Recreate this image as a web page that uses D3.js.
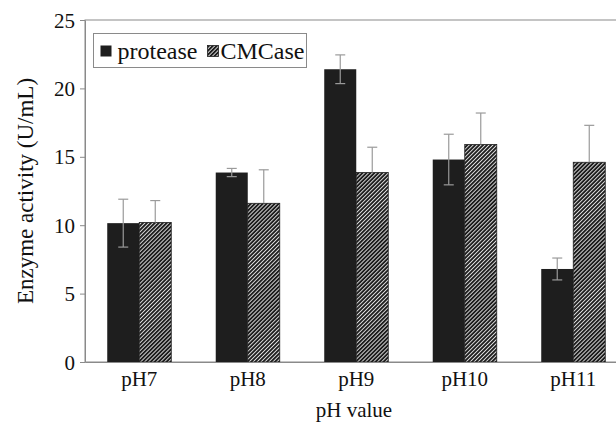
<!DOCTYPE html>
<html>
<head>
<meta charset="utf-8">
<script src="https://cdn.jsdelivr.net/npm/d3@7"></script>
<style>
  html, body { margin: 0; padding: 0; background: #fff; }
  svg { display: block; }
</style>
</head>
<body>
<svg id="chart" width="616" height="423"></svg>
<script>
const categories = ["pH7", "pH8", "pH9", "pH10", "pH11"];
const seriesNames = ["protease", "CMCase"];
const proteaseValues = [10.15, 13.85, 21.4, 14.8, 6.8];
const proteaseErrors = [1.75, 0.3, 1.05, 1.85, 0.8];
const cmcaseValues = [10.2, 11.6, 13.85, 15.9, 14.6];
const cmcaseErrors = [1.6, 2.45, 1.85, 2.3, 2.7];
const yTicks = [0, 5, 10, 15, 20, 25];

const FONT = '"Liberation Serif"';
const svg = d3.select("#chart");
const margin = { left: 85, top: 20, right: 627.5, bottom: 362 };

const defs = svg.append("defs");
const pat = defs.append("pattern")
  .attr("id", "hatch")
  .attr("patternUnits", "userSpaceOnUse")
  .attr("width", 2.8).attr("height", 2.8)
  .attr("patternTransform", "rotate(45)");
pat.append("rect").attr("width", 2.8).attr("height", 2.8).attr("fill", "#e2e2e2");
pat.append("line").attr("x1", 0.95).attr("x2", 0.95).attr("y1", 0).attr("y2", 2.8)
  .attr("stroke", "#1e1e1e").attr("stroke-width", 1.9);

const x0 = d3.scaleBand().domain(categories)
  .range([margin.left, margin.right])
  .paddingInner(0.41).paddingOuter(0.205);
const x1 = d3.scaleBand().domain(seriesNames).range([0, x0.bandwidth()]);
const y = d3.scaleLinear().domain([0, 25]).range([margin.bottom, margin.top]);

// frame
svg.append("rect")
  .attr("x", margin.left).attr("y", margin.top)
  .attr("width", margin.right - margin.left).attr("height", margin.bottom - margin.top)
  .attr("fill", "none").attr("stroke", "#8a8a8a").attr("stroke-width", 1);

const rows = categories.map((c, i) => ({
  cat: c,
  vals: [
    { s: "protease", v: proteaseValues[i], e: proteaseErrors[i] },
    { s: "CMCase", v: cmcaseValues[i], e: cmcaseErrors[i] }
  ]
}));

const groups = svg.append("g").selectAll("g").data(rows).join("g")
  .attr("transform", d => `translate(${x0(d.cat)},0)`);

groups.selectAll("rect").data(d => d.vals).join("rect")
  .attr("x", d => x1(d.s))
  .attr("y", d => y(d.v))
  .attr("width", x1.bandwidth())
  .attr("height", d => y(0) - y(d.v))
  .attr("fill", d => d.s === "protease" ? "#1e1e1e" : "url(#hatch)")
  .attr("stroke", d => d.s === "protease" ? "none" : "#1e1e1e")
  .attr("stroke-width", 0.8);

const capW = 5;
const cx = d => x1(d.s) + x1.bandwidth() / 2;
const eb = groups.selectAll("g.err").data(d => d.vals).join("g").attr("class", "err")
  .attr("stroke", "#9a9a9a").attr("stroke-width", 1.2);
eb.append("line")
  .attr("x1", cx).attr("x2", cx)
  .attr("y1", d => y(d.v + d.e))
  .attr("y2", d => d.s === "protease" ? y(d.v - d.e) : y(d.v));
eb.append("line")
  .attr("x1", d => cx(d) - capW).attr("x2", d => cx(d) + capW)
  .attr("y1", d => y(d.v + d.e)).attr("y2", d => y(d.v + d.e));
eb.filter(d => d.s === "protease").append("line")
  .attr("x1", d => cx(d) - capW).attr("x2", d => cx(d) + capW)
  .attr("y1", d => y(d.v - d.e)).attr("y2", d => y(d.v - d.e));

// axes
const yAxis = svg.append("g").attr("transform", `translate(${margin.left},0)`)
  .call(d3.axisLeft(y).tickValues(yTicks).tickSize(5).tickPadding(5).tickSizeOuter(0));
yAxis.attr("font-family", FONT).attr("font-size", 21);
yAxis.selectAll("line, path").attr("stroke", "#8a8a8a");
yAxis.selectAll("text").style("font-family", FONT).style("font-size", "21px")
  .attr("fill", "#111").attr("dy", "0.34em");

const xAxis = svg.append("g").attr("transform", `translate(0,${margin.bottom})`)
  .call(d3.axisBottom(x0).tickSize(0).tickPadding(9).tickSizeOuter(0));
xAxis.attr("font-family", FONT).attr("font-size", 21);
xAxis.selectAll("path").attr("stroke", "#8a8a8a");
xAxis.selectAll("text").style("font-family", FONT).style("font-size", "21px").attr("fill", "#111");

// axis titles
svg.append("text")
  .attr("transform", `translate(33,${(margin.top + margin.bottom) / 2}) rotate(-90)`)
  .attr("text-anchor", "middle")
  .style("font-family", FONT).style("font-size", "23px").attr("fill", "#111")
  .text("Enzyme activity (U/mL)");
svg.append("text")
  .attr("x", 354).attr("y", 416.5)
  .attr("text-anchor", "middle")
  .style("font-family", FONT).style("font-size", "21px").attr("fill", "#111")
  .text("pH value");

// legend
const lg = svg.append("g");
lg.append("rect").attr("x", 93.5).attr("y", 33.5).attr("width", 213).attr("height", 34)
  .attr("fill", "#fff").attr("stroke", "#8a8a8a").attr("stroke-width", 1);
const legendItems = [
  { s: seriesNames[0], sx: 100.5, tx: 117.5, fill: "#1e1e1e" },
  { s: seriesNames[1], sx: 207.5, tx: 220.5, fill: "url(#hatch)" }
];
legendItems.forEach(it => {
  lg.append("rect").attr("x", it.sx).attr("y", 45.5).attr("width", 11).attr("height", 11)
    .attr("fill", it.fill).attr("stroke", it.s === "CMCase" ? "#1e1e1e" : "none").attr("stroke-width", 0.8);
  lg.append("text").attr("x", it.tx).attr("y", 58.5)
    .style("font-family", FONT).style("font-size", "24px").attr("fill", "#111")
    .text(it.s);
});
</script>
</body>
</html>
